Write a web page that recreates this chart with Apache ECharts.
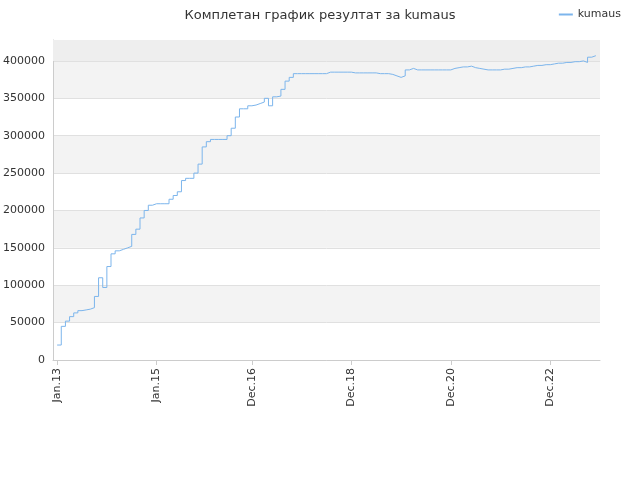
<!DOCTYPE html>
<html><head><meta charset="utf-8">
<script src="https://cdn.jsdelivr.net/npm/echarts@6/dist/echarts.min.js"></script>
<style>html,body{margin:0;padding:0;background:#fff}#c{width:640px;height:480px}</style>
</head><body><div id="c"></div>
<script>
const monthNames=['Jan','Feb','Mar','Apr','May','Jun','Jul','Aug','Sep','Oct','Nov','Dec'];
const categories=[];
for(let i=0;i<=132;i++){const m=(11+i)%12, y=12+Math.floor((11+i)/12);categories.push(monthNames[m]+'.'+String(y).padStart(2,'0'));}
const tickLabels=['Jan.13','Jan.15','Dec.16','Dec.18','Dec.20','Dec.22'];
const values=[null,20000,45000,52000,58000,63000,66000,67000,68000,70000,85000,110000,97000,125000,142000,146000,148000,150000,152000,168000,175000,190000,200000,207000,209000,209000,209000,209000,215000,220000,225000,240000,243000,243000,250000,262000,285000,292000,295000,295000,295000,295000,300000,310000,325000,336000,336000,340000,341000,343000,345000,350000,340000,352000,353000,362000,373000,378000,383000,383000,383000,383000,383000,383000,383000,383000,385000,385000,385000,385000,385000,385000,384000,384000,384000,384000,384000,384000,383000,383000,383000,382000,380000,378000,380000,388000,390000,388000,388000,388000,388000,388000,388000,388000,388000,388000,390000,391000,392000,392000,393000,391000,390000,389000,388000,388000,388000,388000,389000,389000,390000,391000,391000,392000,392000,393000,394000,394000,395000,395000,396000,397000,397000,398000,398000,399000,399000,400000,398000,405000,407000,null,null];
const chart=echarts.init(document.getElementById('c'));
chart.setOption({
 animation:false,
 title:{text:'Комплетан график резултат за kumaus',left:'center',top:4,textStyle:{fontSize:13,fontWeight:'normal',color:'#333',fontFamily:'DejaVu Sans'}},
 legend:{right:14,top:4,itemWidth:14,itemHeight:2,textStyle:{fontSize:11,color:'#333',fontFamily:'DejaVu Sans'},data:[{name:'kumaus',icon:'rect'}]},
 grid:{left:50,right:40,top:40,bottom:120},
 xAxis:{type:'category',data:categories,boundaryGap:false,
  axisLine:{lineStyle:{color:'#ccc'}},
  axisTick:{interval:(i,v)=>tickLabels.includes(v),lineStyle:{color:'#ccc'}},
  axisLabel:{interval:(i,v)=>tickLabels.includes(v),rotate:90,color:'#333',fontSize:11,fontFamily:'DejaVu Sans'},
  splitLine:{show:false}},
 yAxis:{type:'value',min:0,max:428000,interval:50000,
  axisLine:{show:true,lineStyle:{color:'#ccc'}},
  axisLabel:{color:'#333',fontSize:11,fontFamily:'DejaVu Sans',formatter:v=>v%50000===0?v:''},
  splitLine:{lineStyle:{color:'#e0e0e0'}},
  splitArea:{show:true,areaStyle:{color:['#ffffff','#f3f3f3']}}},
 series:[{name:'kumaus',type:'line',step:'end',data:values,showSymbol:false,lineStyle:{color:'#7cb5ec',width:1},itemStyle:{color:'#7cb5ec'},
  markArea:{silent:true,itemStyle:{color:'#eeeeee'},data:[[{yAxis:400000},{yAxis:428000}]]}}]
});
</script></body></html>
